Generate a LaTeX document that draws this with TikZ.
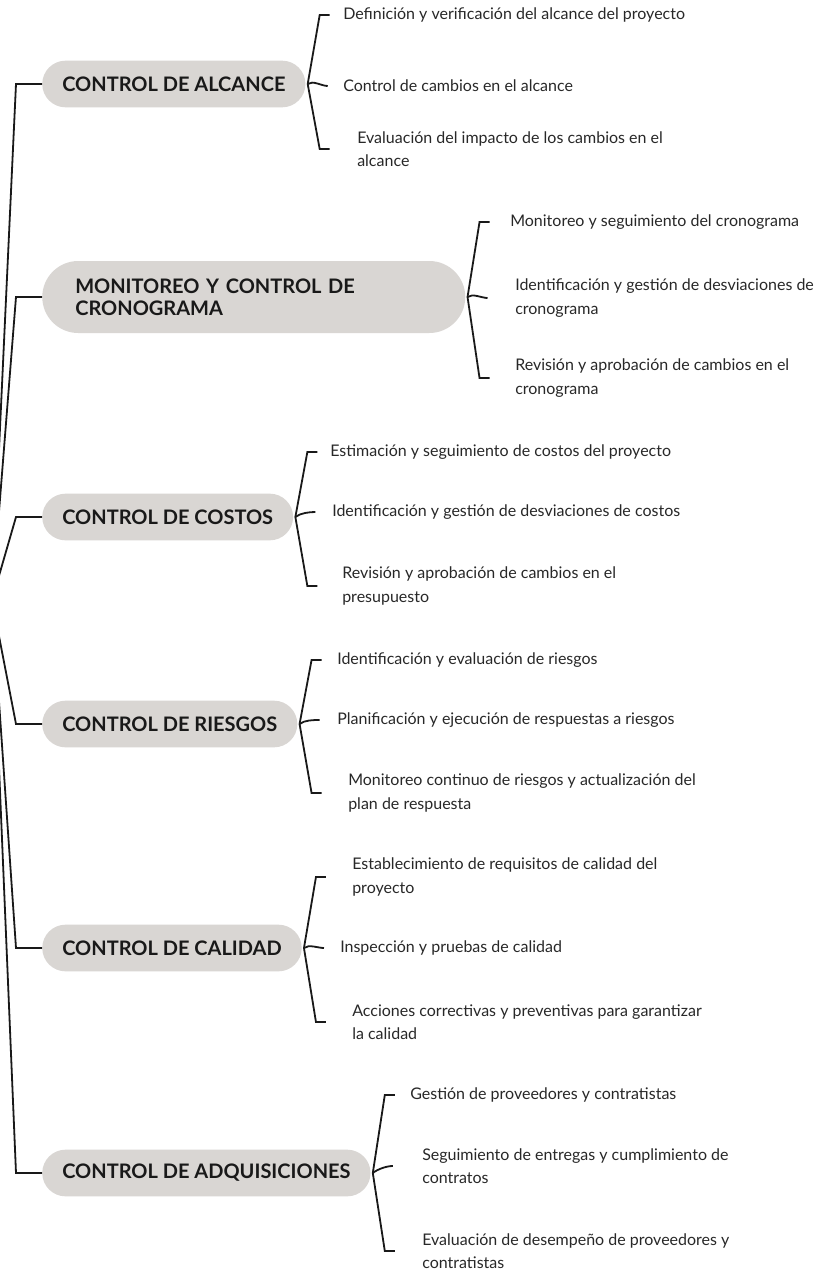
\documentclass[tikz,border=0pt]{standalone}
\usepackage{fontspec}
\setmainfont{Lato}
\usetikzlibrary{calc,positioning}
\definecolor{pillgray}{RGB}{217,214,211}
\definecolor{itemtext}{RGB}{40,40,40}
\tikzset{
  topic/.style={fill=pillgray, rounded corners=17.5pt, minimum height=35pt,
    inner xsep=15pt, anchor=west, align=left, text=black!90,
    font=\bfseries\fontsize{15}{16.5}\selectfont},
  item/.style={anchor=west, align=left, inner sep=0pt, text=itemtext,
    font=\fontsize{12}{17.5}\selectfont},
  link/.style={line width=1.35pt, black!90},
}

\begin{document}
\begin{tikzpicture}[x=0.75pt,y=-0.75pt]
\path[use as bounding box, fill=white] (0,0) rectangle (821,1274);

% Topics
\node[topic] (alc) at (42,84) {CONTROL DE ALCANCE};
\node[topic, rounded corners=27pt, minimum height=54pt, inner xsep=24.75pt,
  text width=267.75pt] (cro) at (42,297) {MONITOREO Y CONTROL DE\\CRONOGRAMA};
\node[topic] (cos) at (42,517) {CONTROL DE COSTOS};
\node[topic] (rie) at (42,724) {CONTROL DE RIESGOS};
\node[topic] (cal) at (42,948) {CONTROL DE CALIDAD};
\node[topic] (adq) at (42,1173) {CONTROL DE ADQUISICIONES};

% Items
\node[item] (alc1) at (343,15) {Definición y verificación del alcance del proyecto};
\node[item] (alc2) at (343,86) {Control de cambios en el alcance};
\node[item] (alc3) at (357,149) {Evaluación del impacto de los cambios en el\\alcance};

\node[item] (cro1) at (510,222) {Monitoreo y seguimiento del cronograma};
\node[item] (cro2) at (515,298) {Identificación y gestión de desviaciones de\\cronograma};
\node[item] (cro3) at (515,378) {Revisión y aprobación de cambios en el\\cronograma};

\node[item] (cos1) at (330,452) {Estimación y seguimiento de costos del proyecto};
\node[item] (cos2) at (332,512) {Identificación y gestión de desviaciones de costos};
\node[item] (cos3) at (342,586) {Revisión y aprobación de cambios en el\\presupuesto};

\node[item] (rie1) at (337,660) {Identificación y evaluación de riesgos};
\node[item] (rie2) at (337,720) {Planificación y ejecución de respuestas a riesgos};
\node[item] (rie3) at (348,793) {Monitoreo continuo de riesgos y actualización del\\plan de respuesta};

\node[item] (cal1) at (352,877) {Establecimiento de requisitos de calidad del\\proyecto};
\node[item] (cal2) at (340,948) {Inspección y pruebas de calidad};
\node[item] (cal3) at (352,1022) {Acciones correctivas y preventivas para garantizar\\la calidad};

\node[item] (adq1) at (410,1095) {Gestión de proveedores y contratistas};
\node[item] (adq2) at (422,1166) {Seguimiento de entregas y cumplimiento de\\contratos};
\node[item] (adq3) at (422,1251) {Evaluación de desempeño de proveedores y\\contratistas};

% Trunk
\coordinate (root) at (-8,600);
\coordinate (trunk) at (16,0);
\foreach \h in {alc,cro,cos,rie,cal,adq}
  \draw[link] (root) -- (trunk |- \h.west) -- (\h.west);

% Braces
\foreach \h in {alc,cro,cos,rie,cal,adq}{
  \coordinate (\h hub) at ($(\h.east)+(2,0)$);
  \draw[link] ($(\h hub |- \h1.west)+(22,0)$) -- ($(\h hub |- \h1.west)+(12,0)$)
    -- (\h hub) -- ($(\h hub |- \h3.west)+(12,0)$) -- ($(\h hub |- \h3.west)+(22,0)$);
  \draw[link] (\h hub) .. controls +(5,-4) and +(-6,0) .. ($(\h hub |- \h2.west)+(20,0)$);
}
\end{tikzpicture}
\end{document}
